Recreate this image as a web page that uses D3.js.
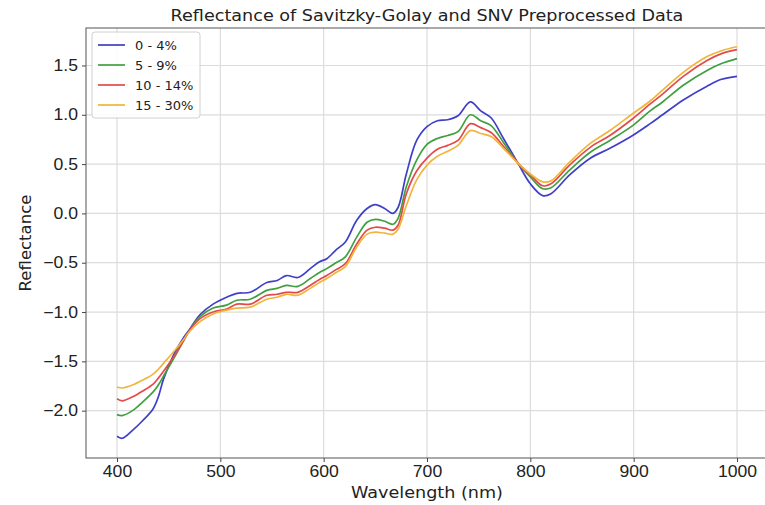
<!DOCTYPE html>
<html>
<head>
<meta charset="utf-8">
<script src="https://cdn.jsdelivr.net/npm/d3@7"></script>
<style>
  html, body { margin: 0; padding: 0; background: #fff; }
  svg { display: block; font-family: "DejaVu Sans", sans-serif; }
</style>
</head>
<body>
<svg id="chart" width="765" height="505"></svg>
<script>
// Wavelengths (nm) shared by every series
const wavelengths = [400, 405, 415, 425, 435, 440, 445, 455, 465, 470, 480, 493, 506, 516, 529, 545, 555, 564, 575, 587, 596, 603, 612, 621, 632, 642, 650, 659, 667, 672, 680, 690, 700, 710, 720, 730, 742, 752, 762, 774, 788, 800, 812, 820, 838, 858, 877, 899, 916, 928, 948, 971, 985, 1000];

// Mean preprocessed reflectance per group
const group0to4 = [-2.26, -2.28, -2.20, -2.10, -1.98, -1.86, -1.68, -1.43, -1.25, -1.18, -1.03, -0.92, -0.85, -0.81, -0.80, -0.70, -0.68, -0.63, -0.65, -0.56, -0.49, -0.46, -0.37, -0.29, -0.07, 0.05, 0.09, 0.05, 0.00, 0.06, 0.40, 0.74, 0.88, 0.94, 0.95, 0.99, 1.13, 1.04, 0.97, 0.76, 0.51, 0.30, 0.18, 0.20, 0.39, 0.56, 0.66, 0.79, 0.91, 1.00, 1.15, 1.29, 1.36, 1.39];
const group5to9 = [-2.04, -2.05, -2.00, -1.91, -1.81, -1.74, -1.65, -1.47, -1.28, -1.19, -1.05, -0.96, -0.93, -0.88, -0.87, -0.78, -0.76, -0.73, -0.74, -0.66, -0.60, -0.56, -0.50, -0.44, -0.24, -0.09, -0.06, -0.08, -0.11, -0.05, 0.27, 0.54, 0.70, 0.76, 0.79, 0.83, 1.00, 0.94, 0.89, 0.72, 0.51, 0.37, 0.25, 0.26, 0.44, 0.62, 0.74, 0.89, 1.04, 1.13, 1.30, 1.45, 1.52, 1.57];
const group10to14 = [-1.88, -1.90, -1.86, -1.80, -1.73, -1.67, -1.60, -1.45, -1.28, -1.19, -1.07, -1.00, -0.97, -0.92, -0.92, -0.83, -0.82, -0.80, -0.80, -0.73, -0.67, -0.63, -0.57, -0.51, -0.31, -0.17, -0.14, -0.15, -0.17, -0.12, 0.20, 0.43, 0.56, 0.65, 0.69, 0.74, 0.91, 0.87, 0.82, 0.68, 0.51, 0.39, 0.28, 0.30, 0.49, 0.67, 0.79, 0.96, 1.11, 1.21, 1.39, 1.55, 1.62, 1.66];
const group15to30 = [-1.76, -1.77, -1.74, -1.69, -1.63, -1.58, -1.52, -1.40, -1.27, -1.20, -1.10, -1.02, -0.98, -0.96, -0.95, -0.87, -0.85, -0.82, -0.83, -0.76, -0.70, -0.66, -0.60, -0.54, -0.34, -0.21, -0.19, -0.20, -0.21, -0.16, 0.08, 0.34, 0.49, 0.58, 0.63, 0.69, 0.84, 0.81, 0.78, 0.66, 0.51, 0.40, 0.32, 0.33, 0.52, 0.71, 0.84, 1.01, 1.14, 1.25, 1.43, 1.59, 1.65, 1.69];

const seriesNames = ["0 - 4%", "5 - 9%", "10 - 14%", "15 - 30%"];
const seriesValues = [group0to4, group5to9, group10to14, group15to30];
const seriesColors = ["#3f3fc8", "#40a040", "#e44a4a", "#f2b43c"];

const xTicks = [400, 500, 600, 700, 800, 900, 1000];
const yTicks = [-2.0, -1.5, -1.0, -0.5, 0.0, 0.5, 1.0, 1.5];

const svg = d3.select("#chart");
const plot = { left: 86, right: 768, top: 28, bottom: 458 };
const textStretch = 1.1;

const x = d3.scaleLinear().domain([370, 1030]).range([plot.left, plot.right]);
const y = d3.scaleLinear().domain([-2.48, 1.88]).range([plot.bottom, plot.top]);

// Grid
const grid = svg.append("g");
grid.selectAll("line.vx").data(xTicks).join("line")
  .attr("x1", d => x(d)).attr("x2", d => x(d))
  .attr("y1", plot.top).attr("y2", plot.bottom)
  .attr("stroke", "#dcdcdc").attr("stroke-width", 1.2);
grid.selectAll("line.hy").data(yTicks).join("line")
  .attr("x1", plot.left).attr("x2", plot.right)
  .attr("y1", d => y(d)).attr("y2", d => y(d))
  .attr("stroke", "#dcdcdc").attr("stroke-width", 1.2);

// Series lines
const line = d3.line()
  .x((d, i) => x(wavelengths[i]))
  .y(d => y(d))
  .curve(d3.curveCatmullRom.alpha(0.5));

svg.append("g").selectAll("path").data(seriesValues).join("path")
  .attr("d", d => line(d))
  .attr("fill", "none")
  .attr("stroke", (d, i) => seriesColors[i])
  .attr("stroke-width", 1.7)
  .attr("stroke-linejoin", "round");

// Axes
const fmt = d => d3.format(".1f")(d).replace("-", "\u2212");
const xAxis = svg.append("g")
  .attr("transform", `translate(0,${plot.bottom})`)
  .call(d3.axisBottom(x).tickValues(xTicks).tickSize(4).tickPadding(4).tickFormat(d3.format("d")));
const yAxis = svg.append("g")
  .attr("transform", `translate(${plot.left},0)`)
  .call(d3.axisLeft(y).tickValues(yTicks).tickSize(4).tickPadding(4).tickFormat(fmt));

[xAxis, yAxis].forEach(a => {
  a.select(".domain").remove();
  a.selectAll(".tick line").attr("stroke", "#444").attr("stroke-width", 1);
  a.selectAll("text").attr("fill", "#222").style("font-size", "16px");
});
xAxis.selectAll(".tick text").attr("transform", `scale(${textStretch},1)`);
yAxis.selectAll(".tick text")
  .attr("x", -8 / textStretch)
  .attr("transform", `scale(${textStretch},1)`);

// Frame
svg.append("rect")
  .attr("x", plot.left).attr("y", plot.top)
  .attr("width", plot.right - plot.left).attr("height", plot.bottom - plot.top)
  .attr("fill", "none").attr("stroke", "#555").attr("stroke-width", 1);

// Title and axis labels
const cx = (plot.left + plot.right) / 2;
svg.append("text")
  .attr("transform", `translate(${cx},21) scale(${textStretch},1)`)
  .attr("text-anchor", "middle").attr("fill", "#222")
  .style("font-size", "16px")
  .text("Reflectance of Savitzky-Golay and SNV Preprocessed Data");
svg.append("text")
  .attr("transform", `translate(${cx},498) scale(${textStretch},1)`)
  .attr("text-anchor", "middle").attr("fill", "#222")
  .style("font-size", "16px")
  .text("Wavelength (nm)");
svg.append("text")
  .attr("transform", `translate(31,${(plot.top + plot.bottom) / 2}) rotate(-90)`)
  .attr("text-anchor", "middle").attr("fill", "#222")
  .style("font-size", "16.5px")
  .text("Reflectance");

// Legend
const legend = svg.append("g").attr("transform", "translate(92,32)");
legend.append("rect")
  .attr("width", 108).attr("height", 86).attr("rx", 3)
  .attr("fill", "#fff").attr("fill-opacity", 0.85)
  .attr("stroke", "#d0d0d0").attr("stroke-width", 1);
const items = legend.selectAll("g.item").data(seriesNames).join("g")
  .attr("transform", (d, i) => `translate(0,${13 + i * 20})`);
items.append("line")
  .attr("x1", 6).attr("x2", 33)
  .attr("stroke", (d, i) => seriesColors[i]).attr("stroke-width", 1.7);
items.append("text")
  .attr("x", 43).attr("y", 0).attr("dy", "0.35em")
  .attr("fill", "#222").style("font-size", "13px")
  .text(d => d);
</script>
</body>
</html>
